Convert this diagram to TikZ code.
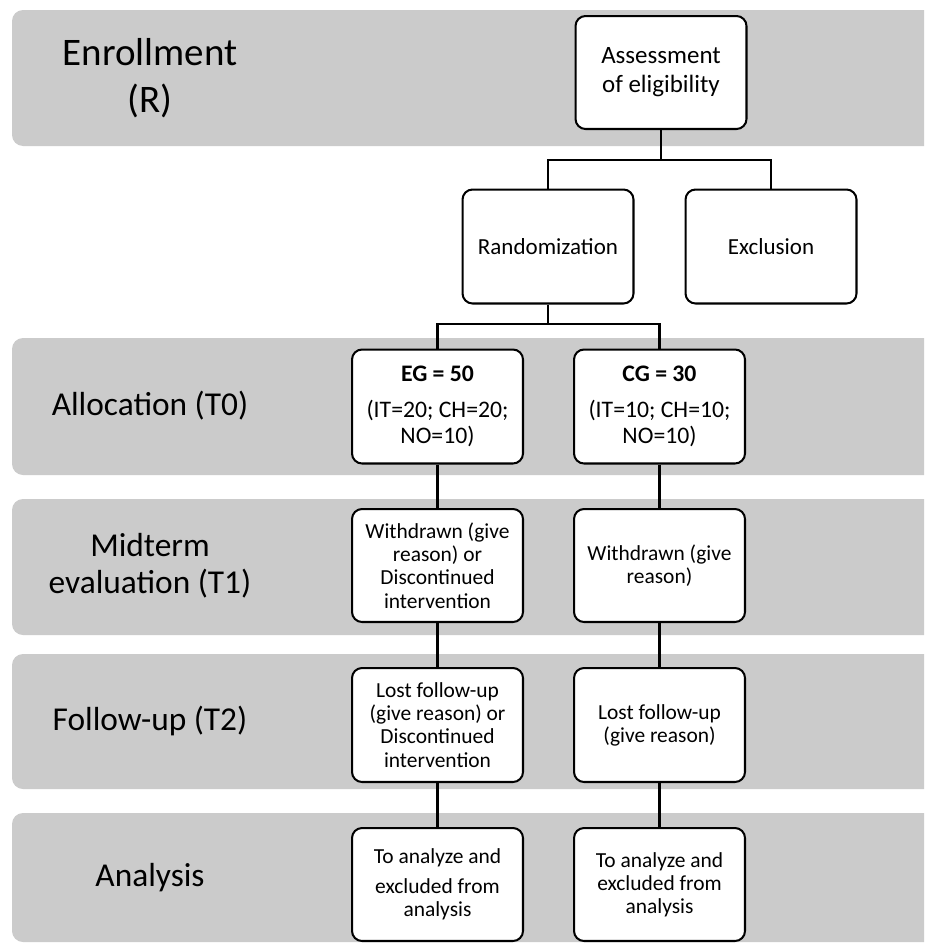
\documentclass[tikz,border=0pt]{standalone}
\usepackage{fontspec}
\setmainfont{Carlito}
\definecolor{bandgray}{RGB}{203,203,203}

\begin{document}
\begin{tikzpicture}[x=0.02cm, y=-0.02cm]
	\tikzstyle{band} = [fill=bandgray, rounded corners=0.22cm]
	\tikzstyle{phase} = [align=center, font=\fontsize{19}{21}\selectfont]
	\tikzstyle{box} = [draw, fill=white, line width=1.15pt, rounded corners=0.2cm, minimum width=3.42cm, minimum height=2.28cm, inner sep=0pt, align=center, font=\fontsize{12.2}{13.2}\selectfont]
	\tikzstyle{link} = [line width=1.3pt]
	\clip (0,0) rectangle (924,943);
	\fill [band] (12,10) rectangle (960,146);
	\fill [band] (12,338) rectangle (960,475);
	\fill [band] (12,499) rectangle (960,635);
	\fill [band] (12,654) rectangle (960,789);
	\fill [band] (12,813) rectangle (960,942);
	\node [phase, font=\fontsize{22.2}{26.7}\selectfont] (R) at (150,78) {Enrollment\\(R)};
	\node [phase] (T0) at (150,406) {Allocation (T0)};
	\node [phase] (T1) at (150,566) {Midterm\\evaluation (T1)};
	\node [phase] (T2) at (150,721) {Follow-up (T2)};
	\node [phase] (AN) at (150,878) {Analysis};
	\node [box, font=\fontsize{14.2}{16.5}\selectfont, minimum height=2.26cm] (assess) at (661,72.5) {Assessment\\of eligibility};
	\node [box, font=\fontsize{13.1}{15}\selectfont] (rand) at (548,246.5) {Randomization};
	\node [box, font=\fontsize{13.1}{15}\selectfont] (excl) at (771,246.5) {Exclusion};
	\node [box, font=\fontsize{13.5}{14.8}\selectfont] (EG0) at (437.5,406.5) {\textbf{EG = 50}\\[6pt](IT=20; CH=20;\\NO=10)};
	\node [box, font=\fontsize{13.5}{14.8}\selectfont] (CG0) at (659.5,406.5) {\textbf{CG = 30}\\[6pt](IT=10; CH=10;\\NO=10)};
	\node [box, minimum height=2.26cm] (EG1) at (437.5,565.5) {Withdrawn (give\\reason) or\\Discontinued\\intervention};
	\node [box, minimum height=2.26cm] (CG1) at (659.5,565.5) {Withdrawn (give\\reason)};
	\node [box] (EG2) at (437.5,725) {Lost follow-up\\(give reason) or\\Discontinued\\intervention};
	\node [box] (CG2) at (659.5,725) {Lost follow-up\\(give reason)};
	\node [box, minimum height=2.26cm] (EG3) at (437.5,884.5) {To analyze and\\[4pt]excluded from\\analysis};
	\node [box, minimum height=2.26cm] (CG3) at (659.5,884.5) {To analyze and\\excluded from\\analysis};
	\coordinate (S1) at (661,160);
	\coordinate (S2) at (548,324);
	\draw [link] (assess.south)--(S1);
	\draw [link] (rand.north) |- (S1) -| (excl.north);
	\draw [link] (rand.south)--(S2);
	\draw [link] (EG0.north) |- (S2) -| (CG0.north);
	\draw [link] (EG0)--(EG1);
	\draw [link] (EG1)--(EG2);
	\draw [link] (EG2)--(EG3);
	\draw [link] (CG0)--(CG1);
	\draw [link] (CG1)--(CG2);
	\draw [link] (CG2)--(CG3);
\end{tikzpicture}
\end{document}
